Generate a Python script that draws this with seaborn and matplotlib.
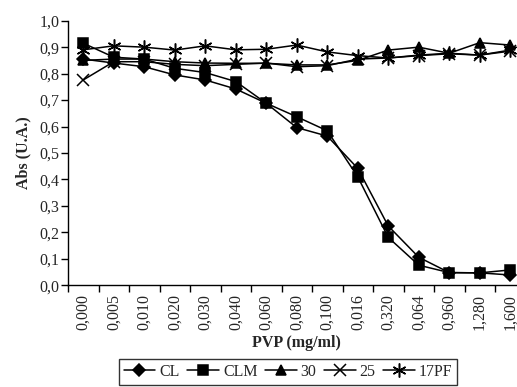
import pandas as pd
import matplotlib
matplotlib.use("Agg")
import matplotlib.pyplot as plt
import seaborn as sns

# PVP concentrations (x categories, as printed on the chart)
pvp_labels = ["0,000", "0,005", "0,010", "0,020", "0,030", "0,040", "0,060", "0,080",
              "0,100", "0,016", "0,320", "0,064", "0,960", "1,280", "1,600"]

# absorbance per series
cl = [0.855, 0.840, 0.826, 0.795, 0.776, 0.742, 0.688, 0.596, 0.564, 0.442, 0.224, 0.106, 0.048, 0.047, 0.039]
clm = [0.915, 0.862, 0.855, 0.820, 0.804, 0.770, 0.688, 0.637, 0.584, 0.410, 0.181, 0.076, 0.048, 0.047, 0.058]
s30 = [0.850, 0.855, 0.855, 0.845, 0.840, 0.839, 0.839, 0.833, 0.833, 0.850, 0.889, 0.900, 0.877, 0.917, 0.908]
s25 = [0.776, 0.845, 0.845, 0.835, 0.830, 0.835, 0.840, 0.826, 0.830, 0.855, 0.859, 0.868, 0.875, 0.870, 0.885]
pf17 = [0.890, 0.905, 0.900, 0.889, 0.905, 0.890, 0.892, 0.908, 0.882, 0.868, 0.859, 0.870, 0.877, 0.870, 0.889]

series_names = ["CL", "CLM", "30", "25", "17PF"]
series_vals = [cl, clm, s30, s25, pf17]

rows = []
for name, vals in zip(series_names, series_vals):
    for i, v in enumerate(vals):
        rows.append({"pos": i, "abs": v, "serie": name})
df = pd.DataFrame(rows)

sns.set_style("white")
plt.rcParams["font.family"] = ["Liberation Serif", "DejaVu Serif"]
plt.rcParams["font.size"] = 11.5

fig = plt.figure(figsize=(5.17, 3.87), dpi=100)
ax = fig.add_axes([68 / 517, 1 - 285.3 / 387, 457.5 / 517, 264.6 / 387])

markers = {"CL": "D", "CLM": "s", "30": "^", "25": "x", "17PF": (6, 2, 0)}
sizes = {"CL": 6, "CLM": 7, "30": 7, "25": 8, "17PF": 10}
for name in series_names:
    sub = df[df["serie"] == name]
    sns.lineplot(data=sub, x="pos", y="abs", ax=ax, color="black", lw=1.1,
                 marker=markers[name], markersize=sizes[name], markeredgewidth=1.1,
                 markerfacecolor="black", markeredgecolor="black", label=name, legend=False)

ax.set_xlim(-0.5, 14.5)
ax.set_ylim(0, 1.0)
ax.set_xticks(range(len(pvp_labels)))
ax.set_xticklabels(pvp_labels, rotation=90)
ax.set_xticks([i - 0.5 for i in range(len(pvp_labels) + 1)], minor=True)
ax.tick_params(axis="x", which="major", length=0, pad=6)
ax.tick_params(axis="x", which="minor", length=5, width=1, direction="out", color="black")
yt = [i / 10 for i in range(11)]
ax.set_yticks(yt)
ax.set_yticklabels([f"{v:.1f}".replace(".", ",") for v in yt])
ax.tick_params(axis="y", length=5, width=1, direction="out", color="black", pad=1)
ax.tick_params(left=True, bottom=True, which="both")

for s in ["top", "right"]:
    ax.spines[s].set_visible(False)
for s in ["left", "bottom"]:
    ax.spines[s].set_color("black")
    ax.spines[s].set_linewidth(1)

ax.set_xlabel("PVP (mg/ml)", fontweight="bold", labelpad=4)
ax.set_ylabel("Abs (U.A.)", fontweight="bold", labelpad=6)

handles, labels = ax.get_legend_handles_labels()
leg = fig.legend(handles, labels, loc="upper center", bbox_to_anchor=(0.557, 1 - 359 / 387),
                 ncol=5, frameon=True, fancybox=False, edgecolor="black", handlelength=2.0,
                 handletextpad=0.25, columnspacing=0.45, borderpad=0.3, borderaxespad=0)
leg.get_frame().set_linewidth(1)

fig.savefig("out.png", dpi=100)
